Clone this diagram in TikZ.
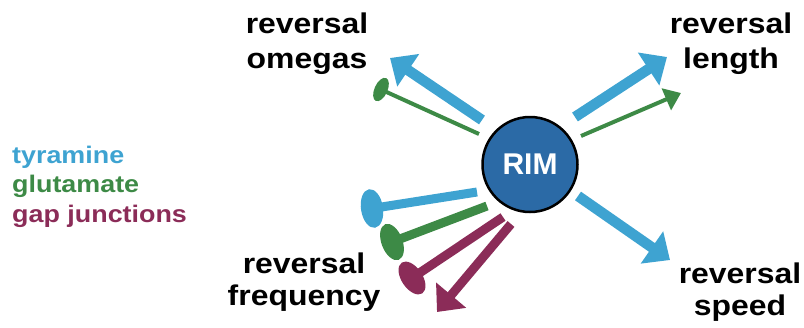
\documentclass[tikz,border=0pt]{standalone}
\usepackage{fontspec}
\setmainfont{Liberation Sans}
\newfontfamily\labfont{Liberation Sans}[FakeStretch=1.12]
\usetikzlibrary{arrows.meta,shapes.geometric}
\definecolor{tyr}{RGB}{62,163,209}
\definecolor{glu}{RGB}{61,138,70}
\definecolor{gapj}{RGB}{139,44,88}
\definecolor{rimblue}{RGB}{43,106,166}
\tikzset{
  lab/.style={align=center, inner sep=0pt, anchor=base,
    font=\labfont\bfseries\fontsize{28.5}{#1}\selectfont},
  lab/.default=34,
  bigarr/.style={line width=10.5pt, -{Triangle[length=22pt,width=38pt]}},
  thinarr/.style={line width=4pt, -{Triangle[length=16pt,width=23pt]}},
  bar/.style={line width=9pt},
  blob/.style={ellipse, inner sep=0pt, minimum width=21pt, minimum height=38pt}
}
\begin{document}
\begin{tikzpicture}[x=1pt,y=-1pt]
    \useasboundingbox (0,0) rectangle (804,327);
    % neurone
    \node[circle, draw=black, line width=2.5pt, fill=rimblue, minimum size=95pt,
      text=white, font=\bfseries\fontsize{30}{30}\selectfont] (rim) at (530,164.5) {RIM};
    % extremites
    \coordinate (omB0) at (482,120);
    \coordinate (omB) at (390,58);
    \coordinate (omG0) at (479,134);
    \coordinate (lenB0) at (575,117);
    \coordinate (lenB) at (667,57);
    \coordinate (lenG0) at (581,136);
    \coordinate (lenG) at (681,93);
    \coordinate (spdB0) at (578,196);
    \coordinate (spdB) at (670,260);
    \coordinate (frqB0) at (477,192);
    \coordinate (frqG0) at (487,206);
    \coordinate (frqP0) at (503,217);
    \coordinate (frqPa0) at (511,224);
    \coordinate (frqPa) at (437,312);
    % bouts inhibiteurs
    \node[blob, fill=glu, minimum width=13pt, minimum height=25pt, rotate=-24.4] (omG) at (381,89.5) {};
    \node[blob, fill=tyr, minimum width=22pt, minimum height=39pt, rotate=8.9] (frqB) at (372,208.5) {};
    \node[blob, fill=glu, rotate=20.8] (frqG) at (392,242) {};
    \node[blob, fill=gapj, minimum height=37pt, rotate=33.8] (frqP) at (412,278) {};
    % fleches
    \draw[bigarr, tyr] (omB0) -- (omB);
    \draw[line width=4pt, glu] (omG0) -- (omG.center);
    \draw[bigarr, tyr] (lenB0) -- (lenB);
    \draw[thinarr, glu] (lenG0) -- (lenG);
    \draw[bigarr, tyr] (spdB0) -- (spdB);
    \draw[bar, tyr] (frqB0) -- (frqB.center);
    \draw[bar, glu] (frqG0) -- (frqG.center);
    \draw[bar, gapj] (frqP0) -- (frqP.center);
    \draw[line width=9pt, gapj, -{Triangle[length=22pt,width=38pt]}] (frqPa0) -- (frqPa);
    % textes
    \node[lab=35] (omegas) at (307,68.5) {reversal\\omegas};
    \node[lab=35] (length) at (731,68.5) {reversal\\length};
    \node[lab=32] (freq) at (304,305) {reversal\\frequency};
    \node[lab=32] (speed) at (740,315) {reversal\\speed};
    \node[align=left, inner sep=0pt, anchor=base west,
      font=\labfont\bfseries\fontsize{24}{29.5}\selectfont] (legend) at (12,222)
      {\textcolor{tyr}{tyramine}\\\textcolor{glu}{glutamate}\\\textcolor{gapj}{gap junctions}};
\end{tikzpicture}
\end{document}
